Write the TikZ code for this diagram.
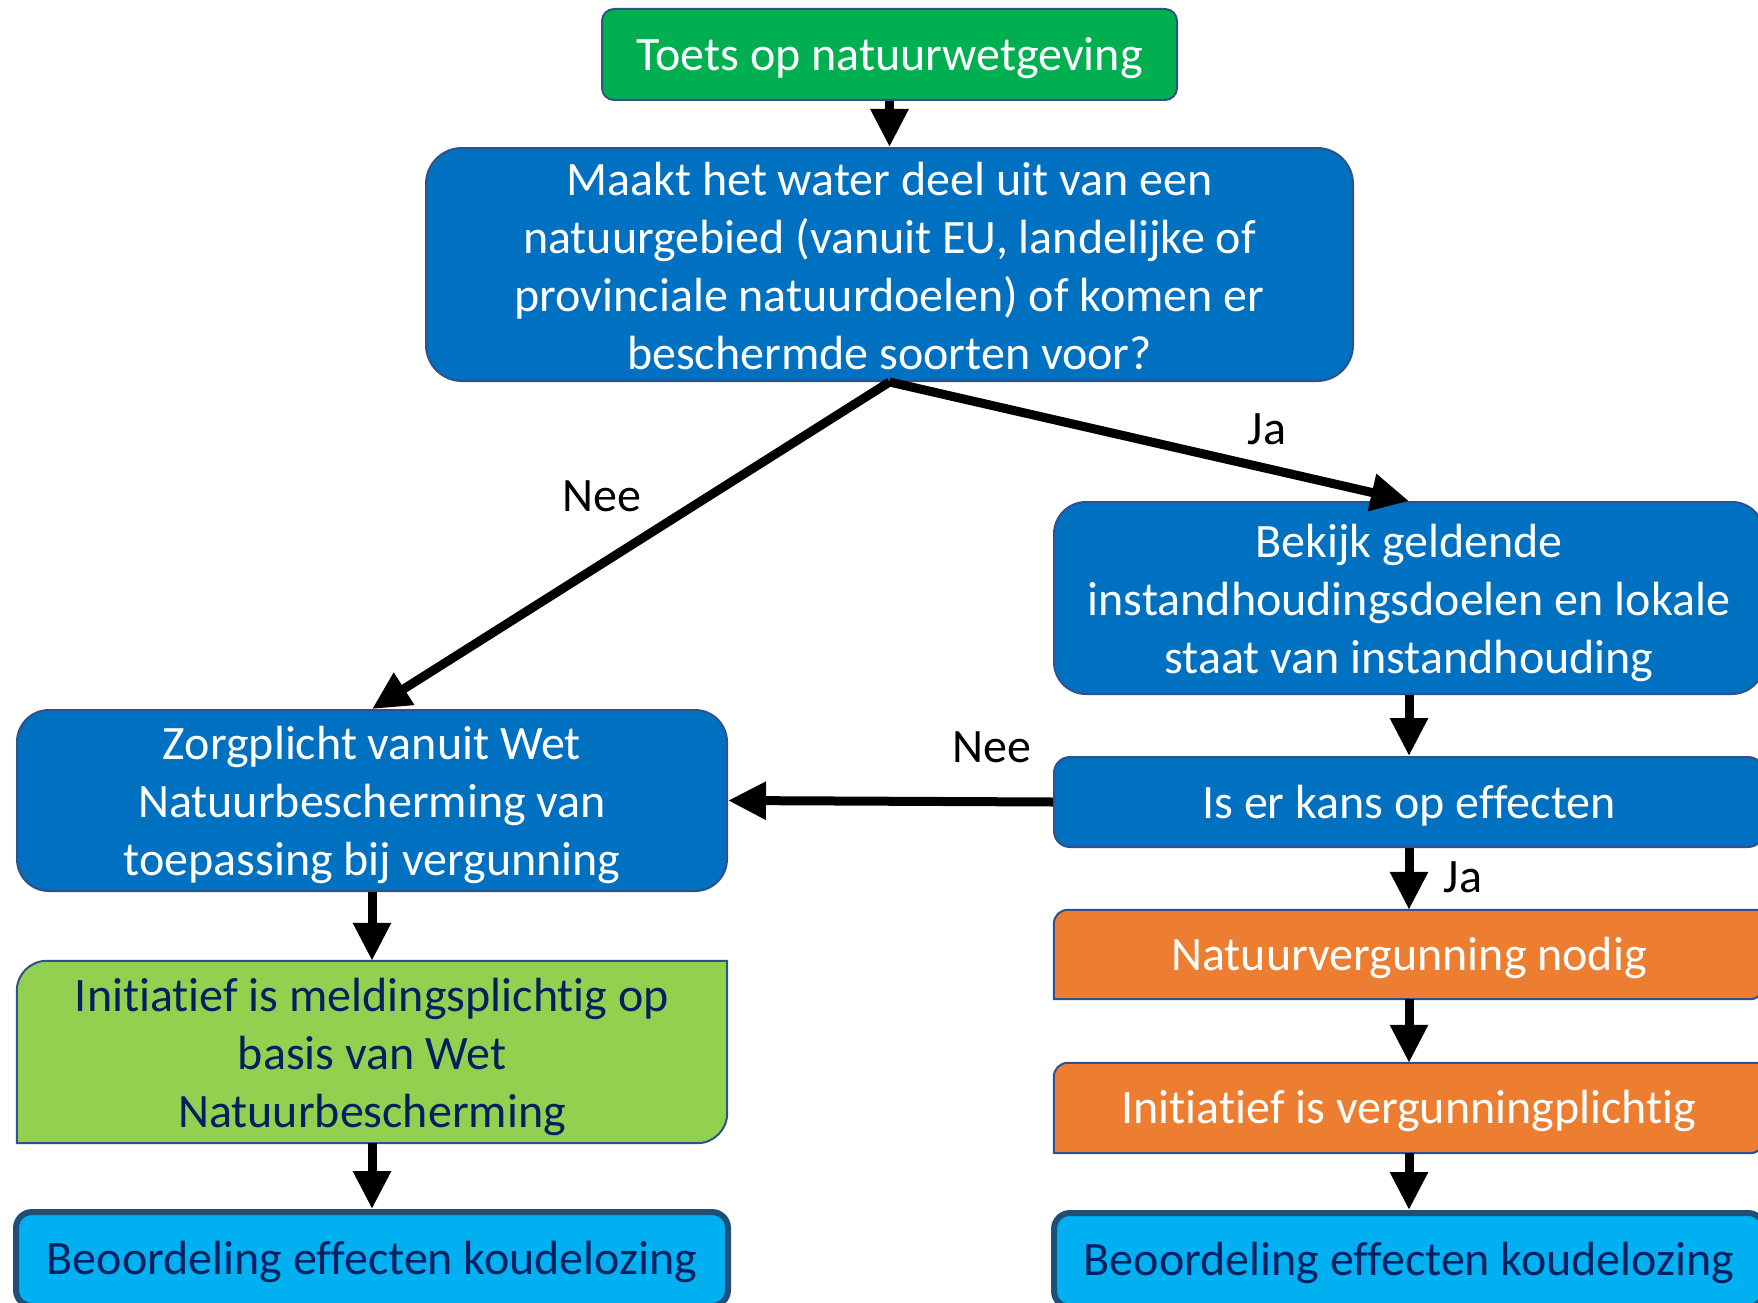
\documentclass[tikz,border=0pt]{standalone}
\usepackage{fontspec}
\setmainfont{Carlito}[Ligatures=NoCommon]
\usetikzlibrary{arrows.meta,calc}
\pgfdeclarelayer{background}
\pgfsetlayers{background,main}
\definecolor{cgreen}{HTML}{00B050}
\definecolor{cblue}{HTML}{0070C0}
\definecolor{corange}{HTML}{ED7D31}
\definecolor{clime}{HTML}{92D050}
\definecolor{ccyan}{HTML}{00B0F0}
\definecolor{cedge}{HTML}{2F528F}
\definecolor{cthick}{HTML}{1F4E79}
\definecolor{cnavy}{HTML}{002060}
\newcommand{\firstline}{\rule{0pt}{43pt}}
\begin{document}
\begin{tikzpicture}[x=1pt,y=-1pt,
  txt/.style={font=\fontsize{48}{58}\selectfont, align=center, inner sep=0pt, rectangle,
    execute at begin node={\rule{0pt}{40pt}}},
  rbox/.style={txt, draw=cedge, line width=2pt, text=white},
  plainbox/.style={txt, text=white},
  beobox/.style={txt, draw=cthick, line width=6pt, fill=ccyan, text=cnavy, rounded corners=16pt},
  arr/.style={line width=9pt, -{Triangle[length=38pt,width=36pt]}},
  lbl/.style={font=\fontsize{48}{58}\selectfont, inner sep=0pt, text=black}
]
\clip (0,0) rectangle (1758,1303);

% nodes
\node[rbox, fill=cgreen, rounded corners=12pt, minimum width=575pt, minimum height=91pt] (top) at (889.5,54.5) {Toets op natuurwetgeving};
\node[rbox, fill=cblue, rounded corners=36pt, minimum width=927pt, minimum height=233pt] (q1) at (889.5,264.5)
  {\rule{0pt}{37pt}Maakt het water deel uit van een\\natuurgebied (vanuit EU, landelijke of\\provinciale natuurdoelen) of komen er\\beschermde soorten voor?};
\node[rbox, fill=cblue, rounded corners=32pt, minimum width=710pt, minimum height=192pt] (bekijk) at (1409,598)
  {\firstline Bekijk geldende\\instandhoudingsdoelen en lokale\\staat van instandhouding};
\node[rbox, fill=cblue, rounded corners=16pt, minimum width=710pt, minimum height=90pt] (kans) at (1409,802) {Is er kans op effecten};
\node[plainbox, minimum width=710pt, minimum height=89pt] (natv) at (1409,954.5) {Natuurvergunning nodig};
\node[plainbox, minimum width=710pt, minimum height=90pt] (initv) at (1409,1108) {Initiatief is vergunningplichtig};
\node[beobox, minimum width=710pt, minimum height=94pt] (beoR) at (1409,1260) {Beoordeling effecten koudelozing};
\node[rbox, fill=cblue, rounded corners=32pt, minimum width=710pt, minimum height=181pt] (zorg) at (372,800.5)
  {\firstline Zorgplicht vanuit Wet\\Natuurbescherming van\\toepassing bij vergunning};
\node[plainbox, text=cnavy, minimum width=710pt, minimum height=182pt] (meld) at (372,1052)
  {\firstline Initiatief is meldingsplichtig op\\basis van Wet\\Natuurbescherming};
\node[beobox, minimum width=712pt, minimum height=94pt] (beoL) at (372,1259) {Beoordeling effecten koudelozing};

% background and round-diagonal shapes
\begin{pgfonlayer}{background}
\fill[white] (0,0) rectangle (1758,1303);
\foreach \n/\c/\r in {natv/corange/14, initv/corange/14, meld/clime/30}{
  \filldraw[fill=\c, draw=cedge, line width=2pt]
    ($(\n.north west)+(0,\r)$) .. controls ($(\n.north west)+(0,0.448*\r)$) and ($(\n.north west)+(0.448*\r,0)$) .. ($(\n.north west)+(\r,0)$)
    -- (\n.north east)
    -- ($(\n.south east)+(0,-\r)$) .. controls ($(\n.south east)+(0,-0.448*\r)$) and ($(\n.south east)+(-0.448*\r,0)$) .. ($(\n.south east)+(-\r,0)$)
    -- (\n.south west) -- cycle;
}
\end{pgfonlayer}

% connectors
\draw[arr] (top.south) -- (q1.north);
\draw[arr] (q1.south) -- (zorg.north);
\draw[arr] (q1.south) -- (bekijk.north);
\draw[arr] (bekijk.south) -- (kans.north);
\draw[arr] (kans.west) -- (zorg.east);
\draw[arr] (kans.south) -- (natv.north);
\draw[arr] (natv.south) -- (initv.north);
\draw[arr] (initv.south) -- (beoR.north);
\draw[arr] (zorg.south) -- (meld.north);
\draw[arr] (meld.south) -- (beoL.north);

% labels
\node[lbl] (ja1) at (1267,429) {Ja};
\node[lbl] (nee1) at (602,496) {Nee};
\node[lbl] (nee2) at (992,747) {Nee};
\node[lbl] (ja2) at (1463,877) {Ja};
\end{tikzpicture}
\end{document}
